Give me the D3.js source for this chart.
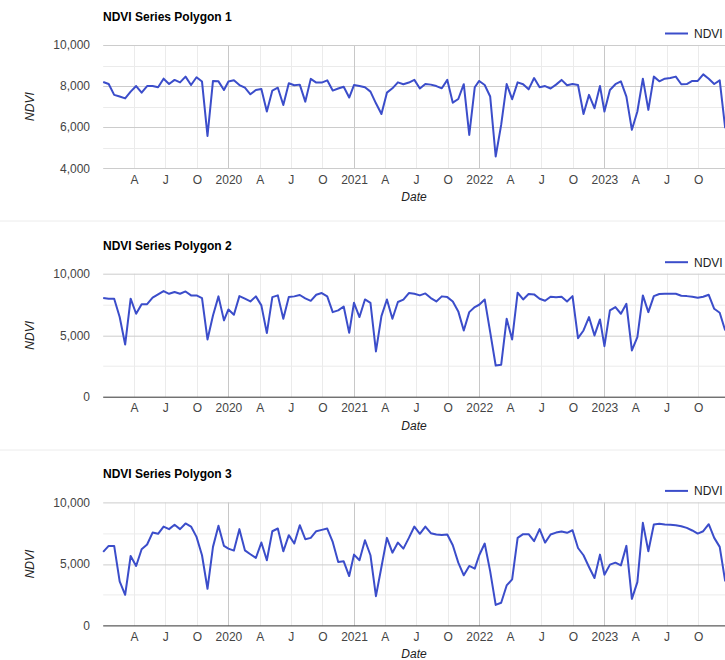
<!DOCTYPE html>
<html>
<head>
<meta charset="utf-8">
<script src="https://cdn.jsdelivr.net/npm/d3@7"></script>
<style>
  html, body { margin: 0; padding: 0; background: #fff; }
  svg { display: block; font-family: Arial, "Liberation Sans", sans-serif; }
</style>
</head>
<body>
<div id="chart"></div>
<script>
// ---- data ----
const years = [2019, 2020, 2021, 2022, 2023];
const compositeDayOffsets = [0, 16, 32, 48, 64, 80, 96, 112, 128, 144, 160, 176, 192, 208, 224, 240, 256, 272, 288, 304, 320, 336, 352];

const polygon1 = [
  8200, 8100, 7570, 7490, 7400, 7730, 8000, 7680, 8000, 8000, 7940, 8360, 8100, 8300, 8180, 8460, 8050, 8430, 8220, 5570, 8250, 8230, 7810,
  8220, 8280, 8050, 7920, 7600, 7810, 7860, 6760, 7780, 7920, 7080, 8140, 8040, 8070, 7240, 8350, 8170, 8170, 8280, 7780, 7880, 7970, 7440,
  8050, 8000, 7940, 7730, 7160, 6640, 7680, 7890, 8180, 8090, 8170, 8300, 7880, 8100, 8070, 8000, 7890, 8300, 7190, 7370, 8090, 5620, 7940,
  8250, 8050, 7490, 4570, 6110, 8100, 7360, 8180, 8090, 7840, 8390, 7940, 8000, 7880, 8070, 8300, 8040, 8100, 8050, 6640, 7570, 6920, 8000,
  6760, 7810, 8090, 8230, 7490, 5870, 6760, 8360, 6840, 8460, 8230, 8360, 8390, 8460, 8090, 8100, 8250, 8250, 8570, 8360, 8100, 8280, 5950
];
const polygon2 = [
  8020, 7970, 7970, 6480, 4250, 7970, 6750, 7530, 7530, 8050, 8320, 8590, 8370, 8510, 8370, 8560, 8240, 8240, 8020, 4660, 6610, 8160, 6210,
  7100, 6670, 8180, 7970, 7750, 8160, 7430, 5180, 8100, 8240, 6340, 8100, 8160, 8270, 8000, 7800, 8290, 8430, 8160, 6880, 7020, 7340, 5200,
  7640, 6480, 7910, 7640, 3690, 6560, 7910, 6340, 7700, 7890, 8430, 8370, 8240, 8400, 8020, 7750, 8160, 8100, 7750, 6940, 5390, 6880, 7290,
  7480, 7910, 5260, 2550, 2600, 6340, 4660, 8460, 7910, 8350, 8320, 7970, 7800, 8130, 8080, 8130, 7750, 8180, 4770, 5390, 6480, 4990, 6290,
  4120, 7020, 7290, 6750, 7560, 3770, 4850, 8240, 6880, 8180, 8350, 8370, 8370, 8370, 8210, 8180, 8130, 8050, 8130, 8290, 7150, 6830, 5390
];
const polygon3 = [
  5980, 6470, 6470, 3590, 2500, 5650, 4840, 6200, 6580, 7550, 7450, 8040, 7830, 8180, 7830, 8290, 8040, 7200, 5710, 2990, 6390, 8100, 6470,
  6250, 6090, 7830, 6110, 5790, 5490, 6740, 5300, 7660, 7880, 6030, 7340, 6660, 8150, 7010, 7120, 7660, 7770, 7880, 6790, 5160, 5220, 4020,
  5760, 5300, 6930, 5710, 2390, 4760, 7120, 5920, 6740, 6250, 7120, 8040, 7450, 8040, 7500, 7390, 7360, 7390, 6520, 5110, 4080, 4840, 4620,
  5710, 6660, 4400, 1680, 1850, 3260, 3750, 7120, 7420, 7420, 6850, 7830, 6740, 7390, 7550, 7640, 7530, 7740, 6300, 5710, 4760, 3860, 5760,
  4130, 4950, 5110, 4890, 6470, 2170, 3530, 8340, 6030, 8210, 8260, 8210, 8180, 8150, 8070, 7930, 7720, 7470, 7660, 8230, 7120, 6390, 3590
];

const panelTitles = ["NDVI Series Polygon 1", "NDVI Series Polygon 2", "NDVI Series Polygon 3"];
const panelSeries = [polygon1, polygon2, polygon3];
const yDomains = [[4000, 10000], [0, 10000], [0, 10000]];
const yMajorTicks = [[4000, 6000, 8000, 10000], [0, 5000, 10000], [0, 5000, 10000]];
const yMinorTicks = [[5000, 7000, 9000], [2500, 7500], [2500, 7500]];
const xTickLabels = ["A", "J", "O", "2020", "A", "J", "O", "2021", "A", "J", "O", "2022", "A", "J", "O", "2023", "A", "J", "O"];
const seriesName = "NDVI";
const xAxisTitle = "Date";
const yAxisTitle = "NDVI";

// ---- build ----
const dates = years.flatMap(y => compositeDayOffsets.map(d => d3.timeDay.offset(new Date(y, 0, 1), d)));
const xTickDates = d3.timeMonth.range(new Date(2019, 3, 1), new Date(2024, 0, 1), 3);

const W = 725, H = 660;
const panelOffsets = [0, 228.7, 457.4];
const plotLeft = 103.2, plotRight = 725.2, plotTop = 45, plotBottom = 168.2;
const lineColor = "#3b4dca";

const svg = d3.select("#chart").append("svg").attr("width", W).attr("height", H);

const x = d3.scaleTime().domain(d3.extent(dates)).range([plotLeft, plotRight]);
const fmt = d3.format(",");

// separators
[221, 450].forEach(yy => {
  svg.append("line").attr("x1", 0).attr("x2", W).attr("y1", yy).attr("y2", yy)
    .attr("stroke", "#ececec").attr("stroke-width", 1);
});

panelSeries.forEach((vals, p) => {
  const g = svg.append("g").attr("transform", `translate(0,${panelOffsets[p]})`);
  const y = d3.scaleLinear().domain(yDomains[p]).range([plotBottom, plotTop]);

  // minor horizontal gridlines
  g.selectAll(".hmin").data(yMinorTicks[p]).join("line")
    .attr("x1", plotLeft).attr("x2", W)
    .attr("y1", d => Math.round(y(d)) + 0.5).attr("y2", d => Math.round(y(d)) + 0.5)
    .attr("stroke", "#ebebeb");
  // vertical gridlines
  g.selectAll(".vg").data(xTickDates).join("line")
    .attr("x1", d => Math.round(x(d)) + 0.5).attr("x2", d => Math.round(x(d)) + 0.5)
    .attr("y1", plotTop).attr("y2", plotBottom)
    .attr("stroke", d => d.getMonth() === 0 ? "#c8c8c8" : "#ebebeb");
  // major horizontal gridlines
  g.selectAll(".hmaj").data(yMajorTicks[p]).join("line")
    .attr("x1", plotLeft).attr("x2", W)
    .attr("y1", d => Math.round(y(d)) + 0.5).attr("y2", d => Math.round(y(d)) + 0.5)
    .attr("stroke", d => d === 0 ? "#333" : "#cccccc");

  // y axis labels
  const yAxis = d3.axisLeft(y).tickValues(yMajorTicks[p]).tickFormat(fmt).tickSize(0).tickPadding(0);
  const ya = g.append("g").attr("transform", `translate(90,0)`).call(yAxis);
  ya.select(".domain").remove();
  ya.selectAll("text").attr("fill", "#444").attr("font-size", 12).attr("font-family", "Arial, 'Liberation Sans', sans-serif");

  // x axis labels
  const xAxis = d3.axisBottom(x).tickValues(xTickDates).tickFormat((d, i) => xTickLabels[i]).tickSize(0).tickPadding(0);
  const xa = g.append("g").attr("transform", `translate(0,${plotBottom + 7})`).call(xAxis);
  xa.select(".domain").remove();
  xa.selectAll("text").attr("fill", "#444").attr("font-size", 12).attr("font-family", "Arial, 'Liberation Sans', sans-serif");

  // line
  const line = d3.line().x((d, i) => x(dates[i])).y(d => y(d));
  g.append("path").datum(vals).attr("d", line)
    .attr("fill", "none").attr("stroke", lineColor).attr("stroke-width", 2)
    .attr("stroke-linejoin", "round");

  // title
  g.append("text").attr("x", 103).attr("y", 21).text(panelTitles[p])
    .attr("font-size", 12).attr("font-weight", "bold").attr("fill", "#000");

  // axis titles
  g.append("text").attr("transform", `translate(34,${(plotTop + plotBottom) / 2}) rotate(-90)`)
    .attr("text-anchor", "middle").attr("font-size", 12).attr("font-style", "italic").attr("fill", "#222")
    .text(yAxisTitle);
  g.append("text").attr("x", 414).attr("y", 201).attr("text-anchor", "middle")
    .attr("font-size", 12).attr("font-style", "italic").attr("fill", "#222").text(xAxisTitle);

  // legend
  g.append("line").attr("x1", 665).attr("x2", 688).attr("y1", 33.5).attr("y2", 33.5)
    .attr("stroke", lineColor).attr("stroke-width", 2);
  g.append("text").attr("x", 694).attr("y", 38).attr("font-size", 12).attr("fill", "#222").text(seriesName);
});
</script>
</body>
</html>
